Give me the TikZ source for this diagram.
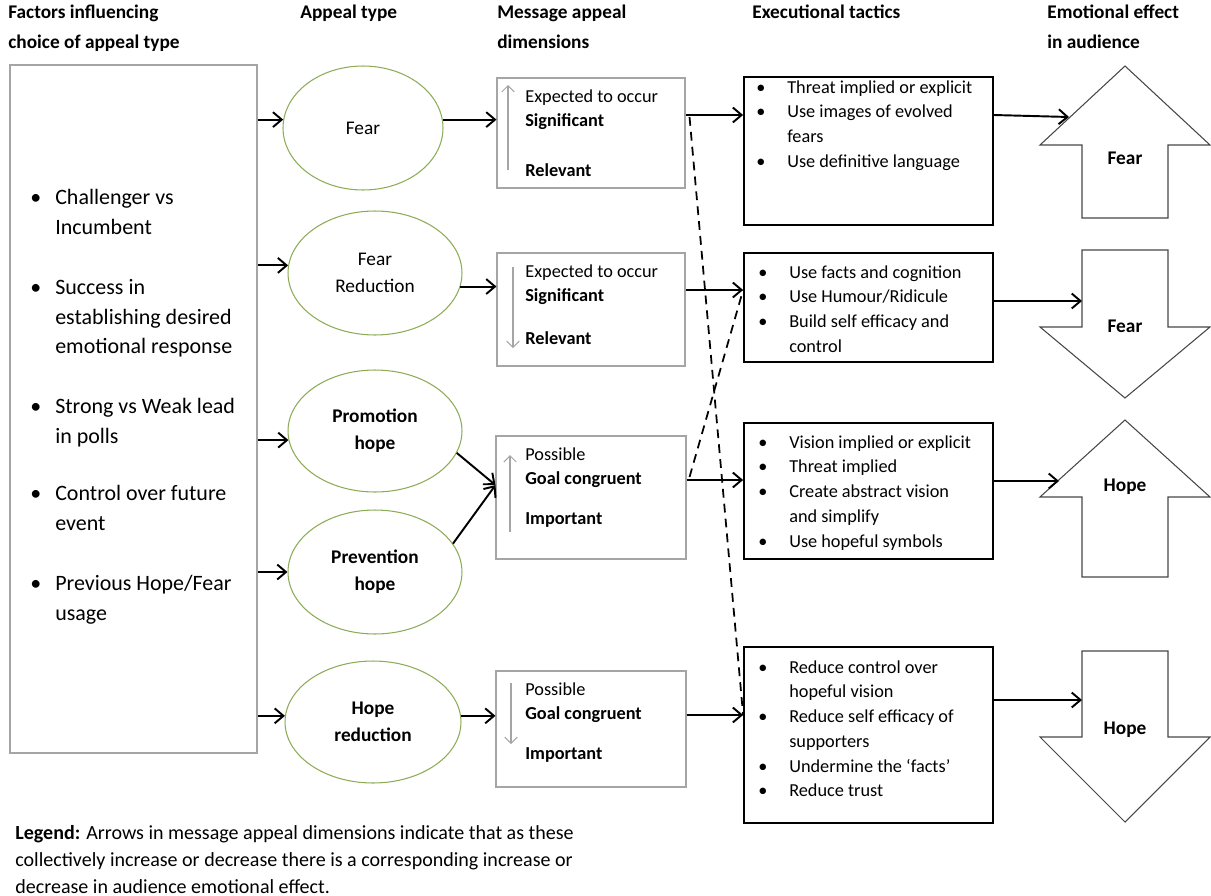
\documentclass[tikz,border=0pt]{standalone}
\usepackage{fontspec}
\setmainfont{Carlito}
\usetikzlibrary{arrows.meta,positioning,calc,fit,shapes.geometric}
\definecolor{ovalgreen}{RGB}{140,172,88}
\definecolor{boxgray}{RGB}{165,165,165}
\definecolor{shapegray}{RGB}{70,70,70}
\tikzset{
  headtext/.style={anchor=north west, align=left, inner sep=0pt, font=\fontsize{11}{17}\selectfont\bfseries},
  listtext/.style={anchor=north west, align=left, inner sep=0pt},
  factorbox/.style={draw=boxgray, line width=0.6pt, inner sep=0pt},
  appealoval/.style={draw=ovalgreen, ellipse, line width=0.6pt, align=center, inner sep=0pt, font=\fontsize{11}{15.3}\selectfont},
  dimbox/.style={draw=boxgray, line width=0.6pt, inner sep=0pt},
  tacticbox/.style={draw, line width=1pt, inner sep=0pt},
  flow/.style={-{Straight Barb[length=5pt,width=8.5pt]}, line width=1.1pt},
  linkdash/.style={dashed, dash pattern=on 5pt off 3.5pt, line width=1pt},
  trend/.style={-{Straight Barb[length=3.5pt,width=7pt]}, draw=boxgray, line width=0.6pt},
  effectshape/.style={draw=shapegray, line width=0.6pt},
  effecttext/.style={font=\fontsize{11}{12}\selectfont\bfseries, inner sep=0pt}
}
\newcommand{\lbul}{\makebox[14.2pt][l]{\textbullet}}
\newcommand{\lind}{\hspace*{14.2pt}}
\newcommand{\tbul}{\makebox[17.6pt][l]{\textbullet}}
\newcommand{\tind}{\hspace*{17.6pt}}

\begin{document}
\begin{tikzpicture}[x=0.02cm, y=-0.02cm]
\useasboundingbox (0,0) rectangle (1211,896);

% column heads
\node[headtext] (hfactors) at (8,5) {Factors influencing\\choice of appeal type};
\node[headtext] (happeal) at (300,5) {Appeal type};
\node[headtext] (hdims) at (497,5) {Message appeal\\dimensions};
\node[headtext] (htactics) at (752,5) {Executional tactics};
\node[headtext] (heffect) at (1047,5) {Emotional effect\\in audience};

% factors
\node[factorbox, fit={(10,65) (257,753)}] (factors) {};
\node[listtext, font=\fontsize{12.5}{17}\selectfont] (factorlist) at (30,189) {%
\lbul Challenger vs\\ \lind Incumbent\\[17pt]
\lbul Success in\\ \lind establishing desired\\ \lind emotional response\\[17pt]
\lbul Strong vs Weak lead\\ \lind in polls\\[15.5pt]
\lbul Control over future\\ \lind event\\[17pt]
\lbul Previous Hope/Fear\\ \lind usage};

% appeal types
\node[appealoval, minimum width=3.2cm, minimum height=2.48cm] (fear) at (363,128) {Fear};
\node[appealoval, minimum width=3.48cm, minimum height=2.48cm] (fearred) at (375,273) {Fear\\Reduction};
\node[appealoval, minimum width=3.48cm, minimum height=2.44cm, font=\fontsize{11}{15.3}\selectfont\bfseries] (promo) at (375,431) {Promotion\\hope};
\node[appealoval, minimum width=3.48cm, minimum height=2.48cm, font=\fontsize{11}{15.3}\selectfont\bfseries] (prevent) at (375,572) {Prevention\\hope};
\node[appealoval, minimum width=3.52cm, minimum height=2.44cm, font=\fontsize{11}{15.3}\selectfont\bfseries] (hopered) at (373,722) {Hope\\reduction};

% message appeal dimensions
\node[dimbox, fit={(497,78) (685,188)}] (dimA) {};
\node[dimbox, fit={(497,253) (685,366)}] (dimB) {};
\node[dimbox, fit={(496,436) (686,559)}] (dimC) {};
\node[dimbox, fit={(496,671) (686,787)}] (dimD) {};
\node[listtext, font=\fontsize{10.4}{14.2}\selectfont] (dimAtext) at (525,89) {Expected to occur\\\textbf{Significant}\\[14.2pt]\textbf{Relevant}};
\node[listtext, font=\fontsize{10.4}{14.2}\selectfont] (dimBtext) at (525,264) {Expected to occur\\\textbf{Significant}\\[10.2pt]\textbf{Relevant}};
\node[listtext, font=\fontsize{10.4}{14.2}\selectfont] (dimCtext) at (525,447) {Possible\\\textbf{Goal congruent}\\[8.5pt]\textbf{Important}};
\node[listtext, font=\fontsize{10.4}{14.2}\selectfont] (dimDtext) at (525,682) {Possible\\\textbf{Goal congruent}\\[8.5pt]\textbf{Important}};
\draw[trend] (508,170) -- (508,85);
\draw[trend] (513,267) -- (513,348);
\draw[trend] (510,532) -- (510,455);
\draw[trend] (511,683) -- (511,744);

% executional tactics
\node[tacticbox, fit={(744,77) (993,225)}] (tacA) {};
\node[tacticbox, fit={(744,253) (993,362)}] (tacB) {};
\node[tacticbox, fit={(744,423) (993,559)}] (tacC) {};
\node[tacticbox, fit={(744,647) (993,823)}] (tacD) {};
\node[listtext, font=\fontsize{10.4}{14.1}\selectfont] (tacAtext) at (756,80) {%
\tbul Threat implied or explicit\\ \tbul Use images of evolved\\ \tind fears\\ \tbul Use definitive language};
\node[listtext, font=\fontsize{10.4}{14.1}\selectfont] (tacBtext) at (758,265) {%
\tbul Use facts and cognition\\ \tbul Use Humour/Ridicule\\ \tbul Build self efficacy and\\ \tind control};
\node[listtext, font=\fontsize{10.4}{14.1}\selectfont] (tacCtext) at (758,435) {%
\tbul Vision implied or explicit\\ \tbul Threat implied\\ \tbul Create abstract vision\\ \tind and simplify\\ \tbul Use hopeful symbols};
\node[listtext, font=\fontsize{10.4}{14.1}\selectfont] (tacDtext) at (758,660) {%
\tbul Reduce control over\\ \tind hopeful vision\\ \tbul Reduce self efficacy of\\ \tind supporters\\ \tbul Undermine the `facts'\\ \tbul Reduce trust};

% emotional effect
\draw[effectshape] (1125,66) -- (1210,145) -- (1168,145) -- (1168,218) -- (1082,218) -- (1082,145) -- (1040,145) -- cycle;
\draw[effectshape] (1082,250) -- (1168,250) -- (1168,327) -- (1210,327) -- (1125,398) -- (1040,327) -- (1082,327) -- cycle;
\draw[effectshape] (1125,420) -- (1210,497) -- (1168,497) -- (1168,577) -- (1082,577) -- (1082,497) -- (1040,497) -- cycle;
\draw[effectshape] (1082,651) -- (1168,651) -- (1168,737) -- (1210,737) -- (1125,822) -- (1040,737) -- (1082,737) -- cycle;
\node[effecttext] (fearup) at (1125,158) {Fear};
\node[effecttext] (feardown) at (1125,326) {Fear};
\node[effecttext] (hopeup) at (1125,487) {Hope};
\node[effecttext] (hopedown) at (1125,730) {Hope};
\coordinate (fearupin) at (1069,117);
\coordinate (feardownin) at (1082,301);
\coordinate (hopeupin) at (1059,481);
\coordinate (hopedownin) at (1082,700);

% connector rows
\coordinate (rowA) at (0,115);
\coordinate (rowB) at (0,290);
\coordinate (rowC) at (0,480);
\coordinate (rowD) at (0,715);
\coordinate (hopein) at ($(dimC.north west)!0.4!(dimC.south west)$);

\draw[flow] (factors.east |- fear.174) -- (fear.174);
\draw[flow] (factors.east |- fearred.175) -- (fearred.175);
\draw[flow] (factors.east |- promo.186) -- (promo.186);
\draw[flow] (factors.east |- prevent.west) -- (prevent.west);
\draw[flow] (factors.east |- hopered.176) -- (hopered.176);

\draw[flow] (fear.6) -- (dimA.west |- fear.6);
\draw[flow] (fearred.-9) -- (dimB.west |- fearred.-9);
\draw[flow] (promo.-15) -- (hopein);
\draw[flow] (prevent.20) -- (hopein);
\draw[flow] (hopered.4) -- (dimD.west |- hopered.4);

\draw[flow] (dimA.east |- rowA) -- (tacA.west |- rowA);
\draw[flow] (dimB.east |- rowB) -- (tacB.west |- rowB);
\draw[flow] (dimC.east |- rowC) -- (tacC.west |- rowC);
\draw[flow] (dimD.east |- rowD) -- (tacD.west |- rowD);
\draw[linkdash] ($(dimA.east |- rowA)+(4,2)$) -- (tacD.west |- rowD);
\draw[linkdash] ($(dimC.east |- rowC)+(3,-3)$) -- (tacB.west |- rowB);

\draw[flow] (tacA.east |- rowA) -- (fearupin);
\draw[flow] (tacB.east |- feardownin) -- (feardownin);
\draw[flow] (tacC.east |- hopeupin) -- (hopeupin);
\draw[flow] (tacD.east |- hopedownin) -- (hopedownin);

% legend
\node[listtext, font=\fontsize{11.4}{15.3}\selectfont] (legend) at (15,825) {\textbf{Legend:} Arrows in message appeal dimensions indicate that as these\\collectively increase or decrease there is a corresponding increase or\\decrease in audience emotional effect.};
\end{tikzpicture}
\end{document}
